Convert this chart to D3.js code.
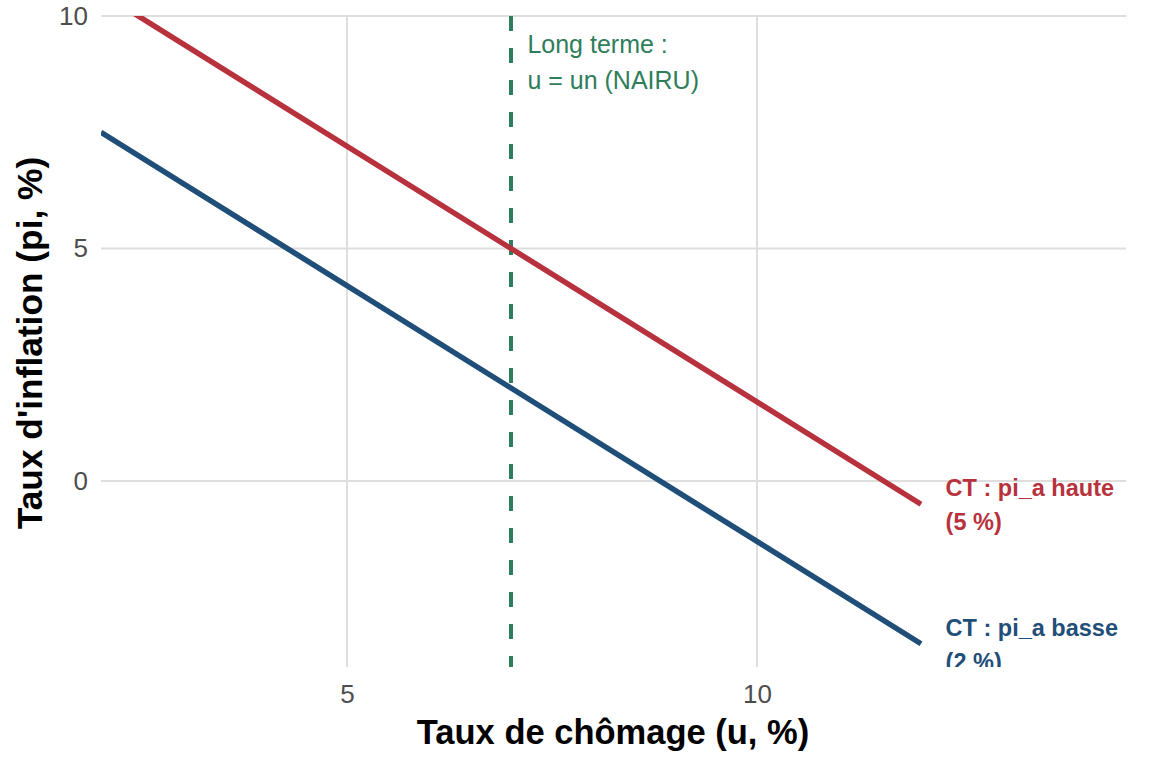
<!DOCTYPE html>
<html>
<head>
<meta charset="utf-8">
<script src="https://cdn.jsdelivr.net/npm/d3@7"></script>
<style>
  body { margin: 0; background: #fff; }
  text { font-family: "Liberation Sans", Arial, sans-serif; }
</style>
</head>
<body>
<script>
// data
var chomage = [2, 7, 12];
var piHaute = [10.5, 5, -0.5];
var piBasse = [7.5, 2, -3.5];
var nairu = 7;
var xTicks = [5, 10];
var yTicks = [0, 5, 10];
var seriesNames = ["CT : pi_a haute", "CT : pi_a basse"];
var seriesSub = ["(5 %)", "(2 %)"];
var labelU = 12.3;
var noteU = 7.2;
var noteLines = ["Long terme :", "u = un (NAIRU)"];

var width = 1152, height = 768;
var pLeft = 101, pRight = 1126, pTop = 16, pBottom = 667;

var red = "#b8323e", blue = "#1f4e79", green = "#2e7d5b";

var svg = d3.select("body").append("svg").attr("width", width).attr("height", height);

var x = d3.scaleLinear().domain([2, 14.5]).range([pLeft, pRight]);
var y = d3.scaleLinear().domain([-4, 10]).range([pBottom, pTop]);

svg.append("defs").append("clipPath").attr("id", "panel")
  .append("rect").attr("x", pLeft).attr("y", pTop).attr("width", pRight - pLeft).attr("height", pBottom - pTop);

// grid
var grid = svg.append("g");
grid.selectAll(".gx").data(xTicks).enter().append("line")
  .attr("x1", d => x(d)).attr("x2", d => x(d)).attr("y1", pTop).attr("y2", pBottom)
  .attr("stroke", "#dedede").attr("stroke-width", 2);
grid.selectAll(".gy").data(yTicks).enter().append("line")
  .attr("x1", pLeft).attr("x2", pRight).attr("y1", d => y(d)).attr("y2", d => y(d))
  .attr("stroke", "#dedede").attr("stroke-width", 2);

// axes (labels only)
var xAxis = svg.append("g").attr("transform", "translate(0," + pBottom + ")")
  .call(d3.axisBottom(x).tickValues(xTicks).tickSize(0).tickPadding(36));
var yAxis = svg.append("g").attr("transform", "translate(" + pLeft + ",0)")
  .call(d3.axisLeft(y).tickValues(yTicks).tickSize(0).tickPadding(13));
[xAxis, yAxis].forEach(function(a) {
  a.select(".domain").remove();
  a.attr("font-size", null).attr("font-family", null);
  a.selectAll("text").attr("fill", "#4d4d4d").style("font-size", "26px");
});
xAxis.selectAll("text").attr("dy", 0);

var plot = svg.append("g").attr("clip-path", "url(#panel)");

// NAIRU
plot.append("line")
  .attr("x1", x(nairu)).attr("x2", x(nairu)).attr("y1", pTop).attr("y2", pBottom)
  .attr("stroke", green).attr("stroke-width", 4).attr("stroke-dasharray", "15,17");

var line = d3.line().x((d, i) => x(chomage[i])).y(d => y(d));
var series = [piHaute, piBasse];
var colors = [red, blue];

plot.selectAll(".ct").data(series).enter().append("path")
  .attr("d", d => line(d))
  .attr("fill", "none")
  .attr("stroke", (d, i) => colors[i])
  .attr("stroke-width", 5.5);

// end labels
series.forEach(function(s, i) {
  var t = plot.append("text")
    .attr("x", x(labelU)).attr("y", y(s[s.length - 1]) - 8)
    .attr("fill", colors[i]).style("font-size", "23.5px").style("font-weight", "bold");
  t.append("tspan").attr("x", x(labelU)).text(seriesNames[i]);
  t.append("tspan").attr("x", x(labelU)).attr("dy", 34).text(seriesSub[i]);
});

// annotation
var note = plot.append("text").attr("x", x(noteU)).attr("y", 53)
  .attr("fill", green).style("font-size", "25px");
noteLines.forEach(function(l, i) {
  note.append("tspan").attr("x", x(noteU)).attr("dy", i ? 36 : 0).text(l);
});

// titles
svg.append("text").attr("x", 613).attr("y", 744).attr("text-anchor", "middle")
  .style("font-size", "34.5px").style("font-weight", "bold").text("Taux de chômage (u, %)");
svg.append("text").attr("transform", "translate(42,343) rotate(-90)").attr("text-anchor", "middle")
  .style("font-size", "35.3px").style("font-weight", "bold").text("Taux d'inflation (pi, %)");
</script>
</body>
</html>
